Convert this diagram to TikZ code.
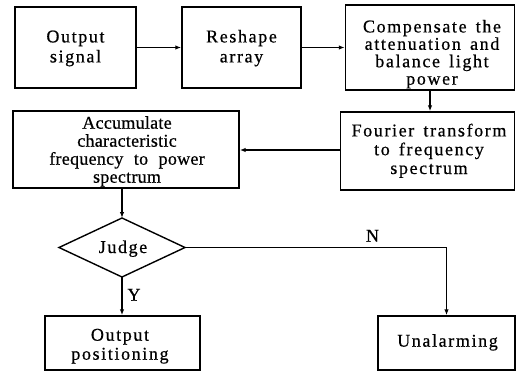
\documentclass[tikz,border=0pt]{standalone}
\usepackage{fontspec}
\setmainfont{Liberation Serif}[LetterSpace=9,WordSpace=1.5,FakeBold=0.6]
\newfontfamily\closefont{Liberation Serif}[LetterSpace=1.5,WordSpace=2.2,FakeBold=0.6]
\usetikzlibrary{arrows.meta}
\newcommand{\firstline}{\rule{0pt}{13pt}}
\begin{document}
\begin{tikzpicture}[x=1pt,y=-1pt,
  line width=1.4pt,
  box/.style={draw, rectangle, inner sep=0pt},
  txt/.style={align=center, inner sep=0pt, anchor=north},
  lbl/.style={inner sep=0pt, anchor=base},
  flow/.style={-{Latex[length=6pt,width=4.5pt]}}]
\useasboundingbox (0,0) rectangle (516,372);
\fontsize{18}{20}\selectfont
% process boxes
\node[box, minimum width=121pt, minimum height=81pt] (sig)  at (75.5,47.5) {};
\node[box, minimum width=119pt, minimum height=81pt] (resh) at (241.5,47.5) {};
\node[box, minimum width=169pt, minimum height=85pt] (comp) at (430,47.5) {};
\node[box, minimum width=174pt, minimum height=78pt] (four) at (427.5,151) {};
\node[box, minimum width=226pt, minimum height=77pt] (acc)  at (126,149.5) {};
\node[box, minimum width=155pt, minimum height=54pt] (pos)  at (122.5,343) {};
\node[box, minimum width=137pt, minimum height=54pt] (unal) at (446.5,343) {};
% decision diamond
\coordinate (judge) at (122,247.5);
\coordinate (judge-n) at (122,218);
\coordinate (judge-s) at (122,277);
\coordinate (judge-w) at (59,247.5);
\coordinate (judge-e) at (185,247.5);
\draw (judge-w) -- (judge-n) -- (judge-e) -- (judge-s) -- cycle;
% box texts
\node[txt, font=\fontsize{18}{20}\selectfont] (sig-t) at (75.5,28.7) {\firstline Output\\signal};
\node[txt, font=\fontsize{18}{20}\selectfont] (resh-t) at (241.5,28.7) {\firstline Reshape\\array};
\node[txt, font=\fontsize{18}{17.4}\selectfont] (comp-t) at (432,18.7) {\firstline Compensate the\\attenuation and\\balance light\\power};
\node[txt, font=\fontsize{18}{18.8}\selectfont] (four-t) at (429,122.7) {\firstline Fourier transform\\to frequency\\spectrum};
\node[txt, font=\closefont\fontsize{18}{18}\selectfont] (acc-t) at (127,115) {\firstline Accumulate\\characteristic\\frequency to power\\spectrum};
\node[txt, font=\fontsize{18}{19}\selectfont] (pos-t) at (120,327) {\firstline Output\\positioning};
\node[lbl, font=\fontsize{18}{19}\selectfont] (unal-t) at (447.5,346.7) {Unalarming};
\node[lbl, font=\fontsize{18}{19}\selectfont] (judge-t) at (123,253) {Judge};
% connectors
\draw[flow] (sig) -- (resh);
\draw[flow] (resh) -- (comp);
\draw[flow] (comp.south) -- (comp.south |- four.north);
\draw[flow] (acc.east |- 0,150) coordinate (acc-in) (four.west |- acc-in) -- (acc-in);
\draw[flow] (judge-n |- acc.south) -- (judge-n);
\draw[flow] (judge-s) -- (judge-s |- pos.north);
\draw[flow] (judge-e) -| (unal.north);
\node[lbl, font=\fontsize{18}{19}\selectfont] (ylab) at (134,300.7) {Y};
\node[lbl, font=\fontsize{18}{19}\selectfont] (nlab) at (372.5,241.7) {N};
\end{tikzpicture}
\end{document}
